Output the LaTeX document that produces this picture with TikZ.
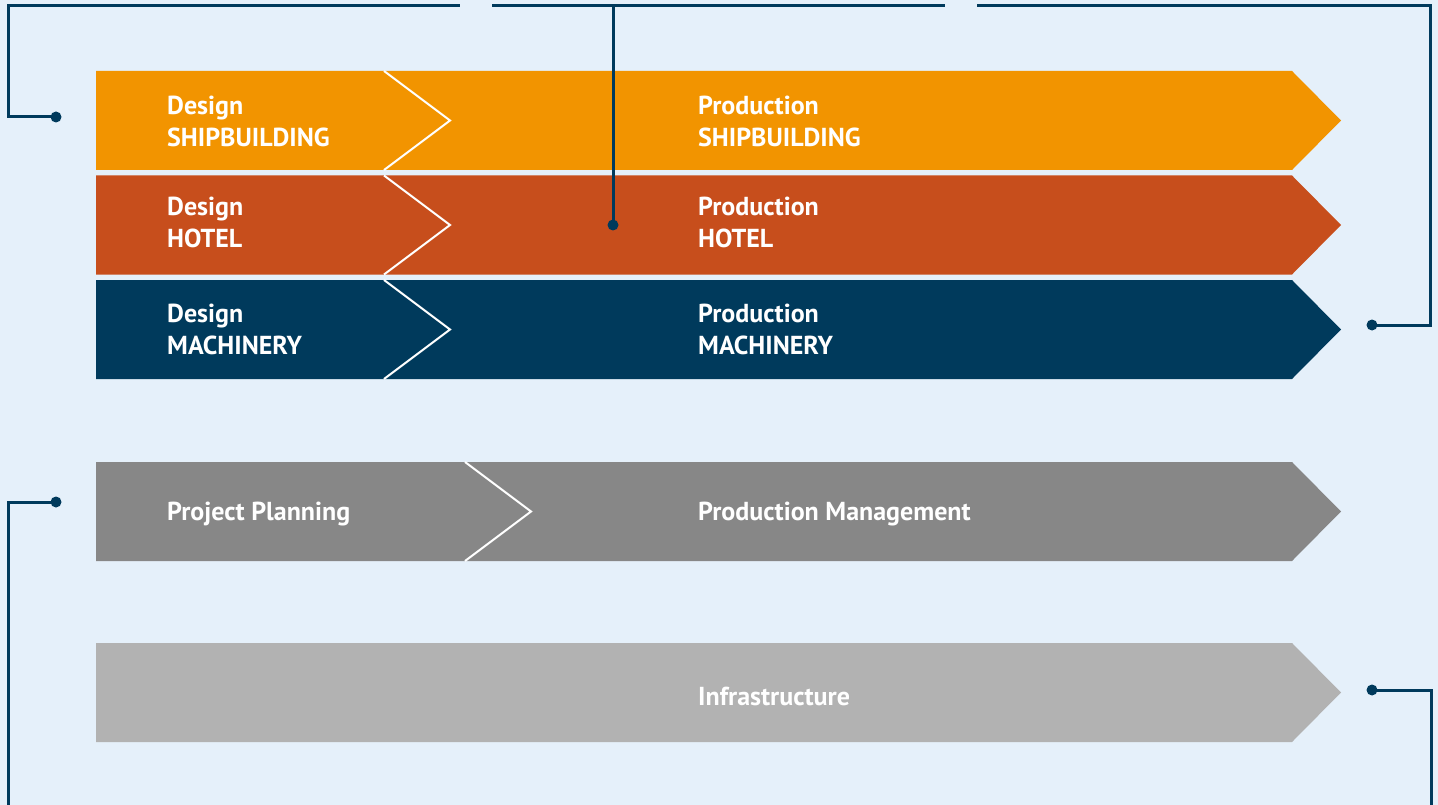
\documentclass[tikz,border=0pt]{standalone}
\usepackage{fontspec}
\setmainfont{PT Sans}
\usetikzlibrary{positioning}
\definecolor{pageblue}{HTML}{E5F0FA}
\definecolor{shiporange}{HTML}{F29400}
\definecolor{hotelred}{HTML}{C74E1C}
\definecolor{machnavy}{HTML}{003A5C}
\definecolor{plangray}{HTML}{878787}
\definecolor{infragray}{HTML}{B2B2B2}
\definecolor{linknavy}{HTML}{003A5C}

\begin{document}
\begin{tikzpicture}[
    x=1pt, y=-1pt,
    lbl/.style={anchor=west, align=left, text=white, inner sep=0pt, font=\fontsize{26}{32}\selectfont\bfseries},
    dot/.style={circle, fill=linknavy, inner sep=0pt, minimum size=11pt},
    link/.style={draw=linknavy, line width=3pt},
    chev/.style={draw=white, line width=2pt},
]
    % page
    \fill[pageblue] (0,0) rectangle (1438,805);
    \useasboundingbox (0,0) rectangle (1438,805);

    % process bands: top edge / colour
    \foreach \top/\col in {71/shiporange, 175.5/hotelred, 280/machnavy, 462/plangray, 643/infragray}
        \fill[\col] (96,\top) -- (1292,\top) -- (1341,\top+49.5) -- (1292,\top+99) -- (96,\top+99) -- cycle;

    % chevrons between design and production
    \foreach \top/\cx in {71/384, 175.5/384, 280/384, 462/465}
        \draw[chev] (\cx,\top) -- (\cx+66,\top+49.5) -- (\cx,\top+99);

    % labels
    \node[lbl] (dship) at (167,121) {Design\\SHIPBUILDING};
    \node[lbl] (pship) at (698,121) {Production\\SHIPBUILDING};
    \node[lbl] (dhotel) at (167,222) {Design\\HOTEL};
    \node[lbl] (photel) at (698,222) {Production\\HOTEL};
    \node[lbl] (dmach) at (167,329) {Design\\MACHINERY};
    \node[lbl] (pmach) at (698,329) {Production\\MACHINERY};
    \node[lbl] (plan) at (167,514) {Project Planning};
    \node[lbl] (pmgmt) at (698,514) {Production Management};
    \node[lbl] (infra) at (698,696) {Infrastructure};

    % connectors
    \node[dot] (dotA) at (56,117) {};
    \node[dot] (dotB) at (613,225) {};
    \node[dot] (dotC) at (1372,325) {};
    \node[dot] (dotD) at (56,502) {};
    \node[dot] (dotE) at (1372,690) {};
    \coordinate (endA) at (460,6);
    \coordinate (endBl) at (492,6);
    \coordinate (endBr) at (945,6);
    \coordinate (endC) at (977,6);
    \coordinate (endD) at (8,806);
    \coordinate (endE) at (1431,806);

    \draw[link] (dotA.center) -- ++(-48,0) |- (endA);
    \draw[link] (dotB.center) |- (endBl);
    \draw[link] (dotB.center |- endBr) -- (endBr);
    \draw[link] (dotC.center) -- ++(58,0) |- (endC);
    \draw[link] (dotD.center) -| (endD);
    \draw[link] (dotE.center) -| (endE);
\end{tikzpicture}
\end{document}
